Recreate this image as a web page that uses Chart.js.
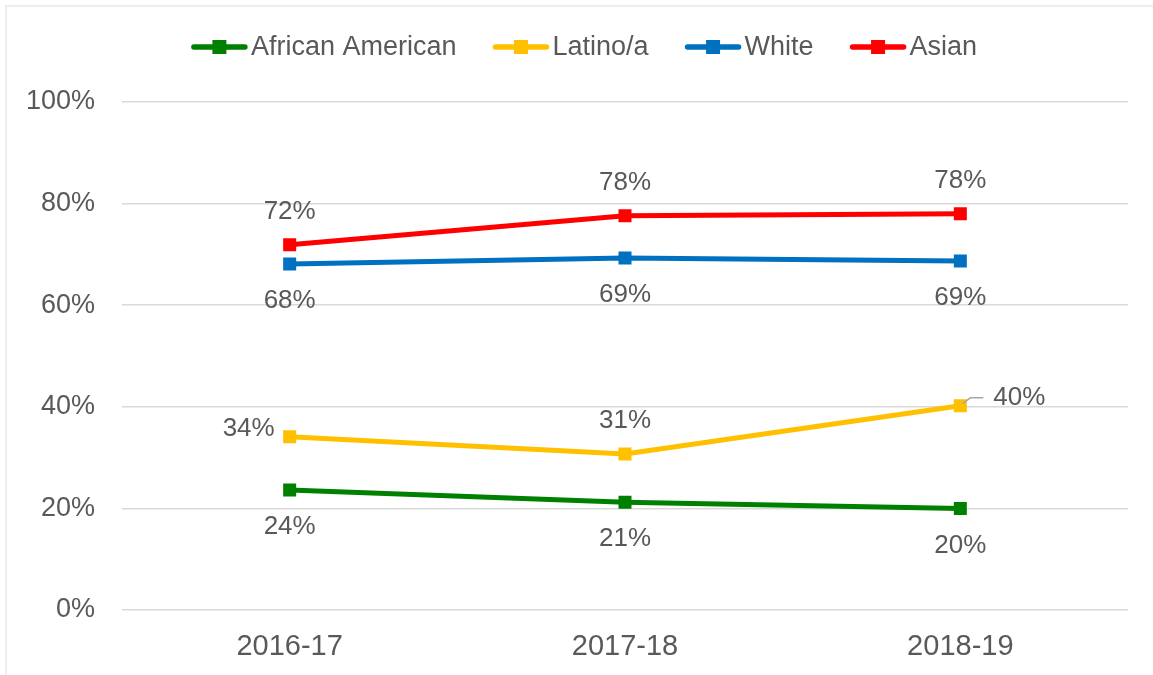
<!DOCTYPE html>
<html>
<head>
<meta charset="utf-8">
<title>Rates by group, 2016-17 to 2018-19</title>
<script src="https://cdn.jsdelivr.net/npm/chart.js@4.4.1/dist/chart.umd.min.js"></script>
<style>
  html, body { margin: 0; padding: 0; background: #ffffff; }
  #wrap { width: 1153px; height: 675px; position: relative; }
</style>
</head>
<body>
<div id="wrap"><canvas id="chart" width="1153" height="675"></canvas></div>
<script>
// ---- data ----
const years = ['2016-17', '2017-18', '2018-19'];
const seriesNames = ['African American', 'Latino/a', 'White', 'Asian'];
const africanAmerican = [23.6, 21.2, 20.0];
const latino = [34.1, 30.7, 40.2];
const white = [68.1, 69.3, 68.7];
const asian = [71.9, 77.6, 78.0];
const yTicks = [0, 20, 40, 60, 80, 100];

// ---- styling ----
const TEXT = '#595959';
const GRID = '#d9d9d9';
const FONT = '"Liberation Sans", Arial, sans-serif';
const colors = ['#008000', '#FFC000', '#0070C0', '#FF0000'];
// where each series puts its value labels, one entry per category
const labelPlacement = [
  ['below', 'below', 'below'],
  ['left', 'above', 'right'],
  ['below', 'below', 'below'],
  ['above', 'above', 'above']
];

const values = [africanAmerican, latino, white, asian];

// frame around the whole chart
const framePlugin = {
  id: 'frame',
  beforeDraw(chart) {
    const ctx = chart.ctx;
    ctx.save();
    ctx.strokeStyle = '#eeeeee';
    ctx.lineWidth = 2;
    ctx.beginPath();
    ctx.moveTo(6, chart.height + 5);
    ctx.lineTo(6, 6);
    ctx.lineTo(chart.width + 5, 6);
    ctx.stroke();
    ctx.restore();
  }
};

// legend: line with a square marker, followed by the series name
const legendPlugin = {
  id: 'lineLegend',
  afterDraw(chart) {
    const ctx = chart.ctx;
    const lineLen = 57, gapText = 3, gapItem = 36, cy = 47, centerX = 584;
    ctx.save();
    ctx.font = '27px ' + FONT;
    ctx.textBaseline = 'middle';
    const items = chart.data.datasets.map(ds => ({
      ds, w: lineLen + gapText + ctx.measureText(ds.label).width
    }));
    const total = items.reduce((s, it) => s + it.w, 0) + gapItem * (items.length - 1);
    let x = centerX - total / 2;
    items.forEach(({ ds, w }) => {
      ctx.strokeStyle = ds.borderColor;
      ctx.lineWidth = 5.5;
      ctx.lineCap = 'round';
      ctx.beginPath();
      ctx.moveTo(x + 3, cy);
      ctx.lineTo(x + lineLen - 3, cy);
      ctx.stroke();
      ctx.fillStyle = ds.borderColor;
      ctx.fillRect(x + lineLen / 2 - 7, cy - 7, 14, 14);
      ctx.fillStyle = TEXT;
      ctx.textAlign = 'left';
      ctx.fillText(ds.label, x + lineLen + gapText, cy + 1);
      x += w + gapItem;
    });
    ctx.restore();
  }
};

// value labels next to each point
const valueLabelPlugin = {
  id: 'valueLabels',
  afterDatasetsDraw(chart) {
    const ctx = chart.ctx;
    ctx.save();
    ctx.font = '26px ' + FONT;
    ctx.fillStyle = TEXT;
    ctx.textBaseline = 'middle';
    chart.data.datasets.forEach((ds, di) => {
      const meta = chart.getDatasetMeta(di);
      meta.data.forEach((pt, i) => {
        const text = Math.round(ds.data[i]) + '%';
        const where = labelPlacement[di][i];
        let x = pt.x, y = pt.y;
        ctx.textAlign = 'center';
        if (where === 'above') { y -= 33; }
        else if (where === 'below') { y += 37; }
        else if (where === 'left') { ctx.textAlign = 'right'; x -= 15; y -= 8; }
        else if (where === 'right') {
          ctx.textAlign = 'left';
          // short leader line to the label
          ctx.save();
          ctx.strokeStyle = '#a6a6a6';
          ctx.lineWidth = 1.5;
          ctx.beginPath();
          ctx.moveTo(pt.x + 2, pt.y - 2);
          ctx.lineTo(pt.x + 10, pt.y - 8);
          ctx.lineTo(pt.x + 23, pt.y - 8);
          ctx.stroke();
          ctx.restore();
          x += 33; y -= 8;
        }
        ctx.fillText(text, x, y);
      });
    });
    ctx.restore();
  }
};

new Chart(document.getElementById('chart'), {
  type: 'line',
  data: {
    labels: years,
    datasets: seriesNames.map((name, i) => ({
      label: name,
      data: values[i],
      borderColor: colors[i],
      backgroundColor: colors[i],
      borderWidth: 5,
      tension: 0,
      pointStyle: 'rect',
      pointRadius: 9.2,
      pointBorderWidth: 0,
      pointHoverRadius: 9.2,
      fill: false
    }))
  },
  options: {
    responsive: false,
    devicePixelRatio: 1,
    animation: false,
    layout: { padding: { left: 0, right: 25, top: 102, bottom: 0 } },
    plugins: {
      legend: { display: false },
      tooltip: { enabled: false }
    },
    scales: {
      x: {
        offset: true,
        grid: { display: false, drawTicks: false },
        border: { display: false },
        ticks: {
          color: TEXT,
          font: { family: FONT, size: 29 },
          padding: 20,
          maxRotation: 0
        },
        afterFit(scale) { scale.height = 65; }
      },
      y: {
        min: 0,
        max: 100,
        afterBuildTicks(scale) { scale.ticks = yTicks.map(v => ({ value: v })); },
        grid: { color: GRID, lineWidth: 1.5, drawTicks: false },
        border: { display: false },
        ticks: {
          color: TEXT,
          font: { family: FONT, size: 27 },
          padding: 27,
          callback: v => v + '%'
        },
        afterFit(scale) { scale.width = 122; }
      }
    }
  },
  plugins: [framePlugin, legendPlugin, valueLabelPlugin]
});
</script>
</body>
</html>
